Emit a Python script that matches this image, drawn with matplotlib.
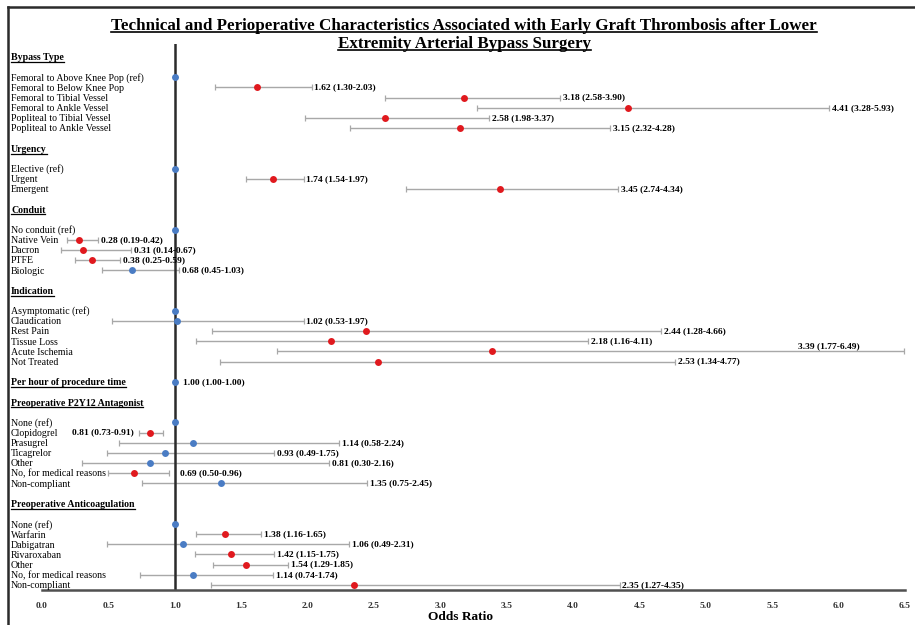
import numpy as np
import matplotlib
matplotlib.use("Agg")
import matplotlib.pyplot as plt
from matplotlib.lines import Line2D
from matplotlib.transforms import blended_transform_factory

plt.rcParams['font.family'] = ['Liberation Serif', 'DejaVu Serif']

nan = np.nan

# ---------------- data ----------------
group_titles = ["Bypass Type", "Urgency", "Conduit", "Indication",
                "Per hour of procedure time",
                "Preoperative P2Y12 Antagonist", "Preoperative Anticoagulation"]

bypass_labels = ["Femoral to Above Knee Pop (ref)", "Femoral to Below Knee Pop",
                 "Femoral to Tibial Vessel", "Femoral to Ankle Vessel",
                 "Popliteal to Tibial Vessel", "Popliteal to Ankle Vessel"]
bypass_or = [1.00, 1.62, 3.18, 4.41, 2.58, 3.15]
bypass_lo = [nan, 1.30, 2.58, 3.28, 1.98, 2.32]
bypass_hi = [nan, 2.03, 3.90, 5.93, 3.37, 4.28]

urgency_labels = ["Elective (ref)", "Urgent", "Emergent"]
urgency_or = [1.00, 1.74, 3.45]
urgency_lo = [nan, 1.54, 2.74]
urgency_hi = [nan, 1.97, 4.34]

conduit_labels = ["No conduit (ref)", "Native Vein", "Dacron", "PTFE", "Biologic"]
conduit_or = [1.00, 0.28, 0.31, 0.38, 0.68]
conduit_lo = [nan, 0.19, 0.14, 0.25, 0.45]
conduit_hi = [nan, 0.42, 0.67, 0.59, 1.03]

indication_labels = ["Asymptomatic (ref)", "Claudication", "Rest Pain",
                     "Tissue Loss", "Acute Ischemia", "Not Treated"]
indication_or = [1.00, 1.02, 2.44, 2.18, 3.39, 2.53]
indication_lo = [nan, 0.53, 1.28, 1.16, 1.77, 1.34]
indication_hi = [nan, 1.97, 4.66, 4.11, 6.49, 4.77]

hour_labels = []
hour_or = [1.00]
hour_lo = [1.00]
hour_hi = [1.00]

p2y12_labels = ["None (ref)", "Clopidogrel", "Prasugrel", "Ticagrelor", "Other",
                "No, for medical reasons", "Non-compliant"]
p2y12_or = [1.00, 0.81, 1.14, 0.93, 0.81, 0.69, 1.35]
p2y12_lo = [nan, 0.73, 0.58, 0.49, 0.30, 0.50, 0.75]
p2y12_hi = [nan, 0.91, 2.24, 1.75, 2.16, 0.96, 2.45]

anticoag_labels = ["None (ref)", "Warfarin", "Dabigatran", "Rivaroxaban", "Other",
                   "No, for medical reasons", "Non-compliant"]
anticoag_or = [1.00, 1.38, 1.06, 1.42, 1.54, 1.14, 2.35]
anticoag_lo = [nan, 1.16, 0.49, 1.15, 1.29, 0.74, 1.27]
anticoag_hi = [nan, 1.65, 2.31, 1.75, 1.85, 1.74, 4.35]

x_ticks = [0.0, 0.5, 1.0, 1.5, 2.0, 2.5, 3.0, 3.5, 4.0, 4.5, 5.0, 5.5, 6.0, 6.5]
x_tick_labels = ["0.0", "0.5", "1.0", "1.5", "2.0", "2.5", "3.0", "3.5",
                 "4.0", "4.5", "5.0", "5.5", "6.0", "6.5"]

groups = [
    (bypass_labels, bypass_or, bypass_lo, bypass_hi),
    (urgency_labels, urgency_or, urgency_lo, urgency_hi),
    (conduit_labels, conduit_or, conduit_lo, conduit_hi),
    (indication_labels, indication_or, indication_lo, indication_hi),
    (hour_labels, hour_or, hour_lo, hour_hi),
    (p2y12_labels, p2y12_or, p2y12_lo, p2y12_hi),
    (anticoag_labels, anticoag_or, anticoag_lo, anticoag_hi),
]

# ---------------- layout ----------------
RED = '#e0191e'
BLUE = '#4a7cc4'
GRAY = '#a8a8a8'
W, H = 915, 625

fig = plt.figure(figsize=(W / 100, H / 100), dpi=100)
ax = fig.add_axes([42 / W, 1 - 590 / H, 863 / W, (590 - 44) / H])
ax.set_xlim(0, 6.5)
ax.set_ylim(52.5, -1.28)

lbl_tr = blended_transform_factory(fig.transFigure, ax.transData)
LBL_X = 11 / W
FS = 7.1
VFS = 6.8

headers = []
row = 0
points = []  # (row, or, lo, hi, label, group, idx)
for gi, (title, (labs, ors, los, his)) in enumerate(zip(group_titles, groups)):
    headers.append((row, title))
    if len(labs) == 0:
        points.append((row, ors[0], los[0], his[0], None, gi, 0))
        row += 2
        continue
    row += 2
    for i, lab in enumerate(labs):
        points.append((row, ors[i], los[i], his[i], lab, gi, i))
        row += 1
    row += 1

header_texts = []
for r, title in headers:
    t = ax.text(LBL_X, r + 0.33, title, transform=lbl_tr, ha='left',
                va='baseline', fontsize=FS, fontweight='bold', clip_on=False)
    header_texts.append(t)

ax.axvline(1.0, color='#2b2b2b', lw=1.8, zorder=2)

for (r, o, lo, hi, lab, gi, i) in points:
    if lab is not None:
        ax.text(LBL_X, r + 0.33, lab, transform=lbl_tr, ha='left',
                va='baseline', fontsize=FS, clip_on=False)
    has_ci = not np.isnan(lo)
    sig = has_ci and (lo > 1.0 or hi < 1.0)
    color = RED if sig else BLUE
    if has_ci and hi > lo:
        ax.errorbar([o], [r], xerr=[[o - lo], [hi - o]], fmt='none',
                    ecolor=GRAY, elinewidth=1.0, capsize=2.0, capthick=0.9,
                    zorder=1)
    ax.plot([o], [r], 'o', color=color, markersize=5.0, zorder=4,
            markeredgewidth=0)
    if has_ci:
        txt = f"{o:.2f} ({lo:.2f}-{hi:.2f})"
        if lab == "Clopidogrel":
            ax.text(lo - 0.04, r, txt, ha='right', va='center',
                    fontsize=VFS, fontweight='bold', clip_on=False)
        elif lab == "Acute Ischemia":
            ax.text(6.16, r - 0.5, txt, ha='right', va='center',
                    fontsize=VFS, fontweight='bold', clip_on=False)
        elif gi == 5 and lab == "No, for medical reasons":
            ax.text(1.04, r, txt, ha='left', va='center',
                    fontsize=VFS, fontweight='bold', clip_on=False)
        elif lab is None:
            ax.text(hi + 0.06, r, txt, ha='left', va='center',
                    fontsize=VFS, fontweight='bold', clip_on=False)
        else:
            ax.text(hi + 0.022, r, txt, ha='left', va='center',
                    fontsize=VFS, fontweight='bold', clip_on=False)

for s in ['top', 'right', 'left']:
    ax.spines[s].set_visible(False)
ax.spines['bottom'].set_color('#505050')
ax.spines['bottom'].set_linewidth(1.8)
ax.set_yticks([])
ax.set_xticks(x_ticks)
ax.set_xticklabels(x_tick_labels, fontsize=VFS, fontweight='bold', color='#333333')
ax.tick_params(axis='x', length=0, pad=8.5)
ax.patch.set_visible(False)

fig.text(460 / W, 1 - 617 / H, "Odds Ratio", ha='center', va='center',
         fontsize=9.6, fontweight='bold')

title1 = fig.text(464 / W, 1 - 30 / H,
                  "Technical and Perioperative Characteristics Associated with Early Graft Thrombosis after Lower",
                  ha='center', va='baseline', fontsize=12.25, fontweight='bold')
title2 = fig.text(464 / W, 1 - 47.5 / H, "Extremity Arterial Bypass Surgery",
                  ha='center', va='baseline', fontsize=12.25, fontweight='bold')

# frame (top and left)
fig.add_artist(Line2D([8 / W, 1.0], [1 - 7 / H, 1 - 7 / H], transform=fig.transFigure,
                      color='#2b2b2b', lw=1.8))
fig.add_artist(Line2D([8 / W, 8 / W], [0, 1 - 7 / H], transform=fig.transFigure,
                      color='#2b2b2b', lw=1.8))

# underlines
fig.canvas.draw()
renderer = fig.canvas.get_renderer()
inv = fig.transFigure.inverted()


def underline(t, gap, lw):
    bb = t.get_window_extent(renderer)
    x0, y0 = t.get_transform().transform(t.get_position())
    yb = y0 - gap
    p0 = inv.transform((bb.x0, yb))
    p1 = inv.transform((bb.x1, yb))
    fig.add_artist(Line2D([p0[0], p1[0]], [p0[1], p1[1]], transform=fig.transFigure,
                          color='black', lw=lw))


for t in header_texts:
    underline(t, 1.8, 0.9)
underline(title1, 2.2, 1.2)
underline(title2, 2.2, 1.2)

fig.savefig('out.png', dpi=100)
